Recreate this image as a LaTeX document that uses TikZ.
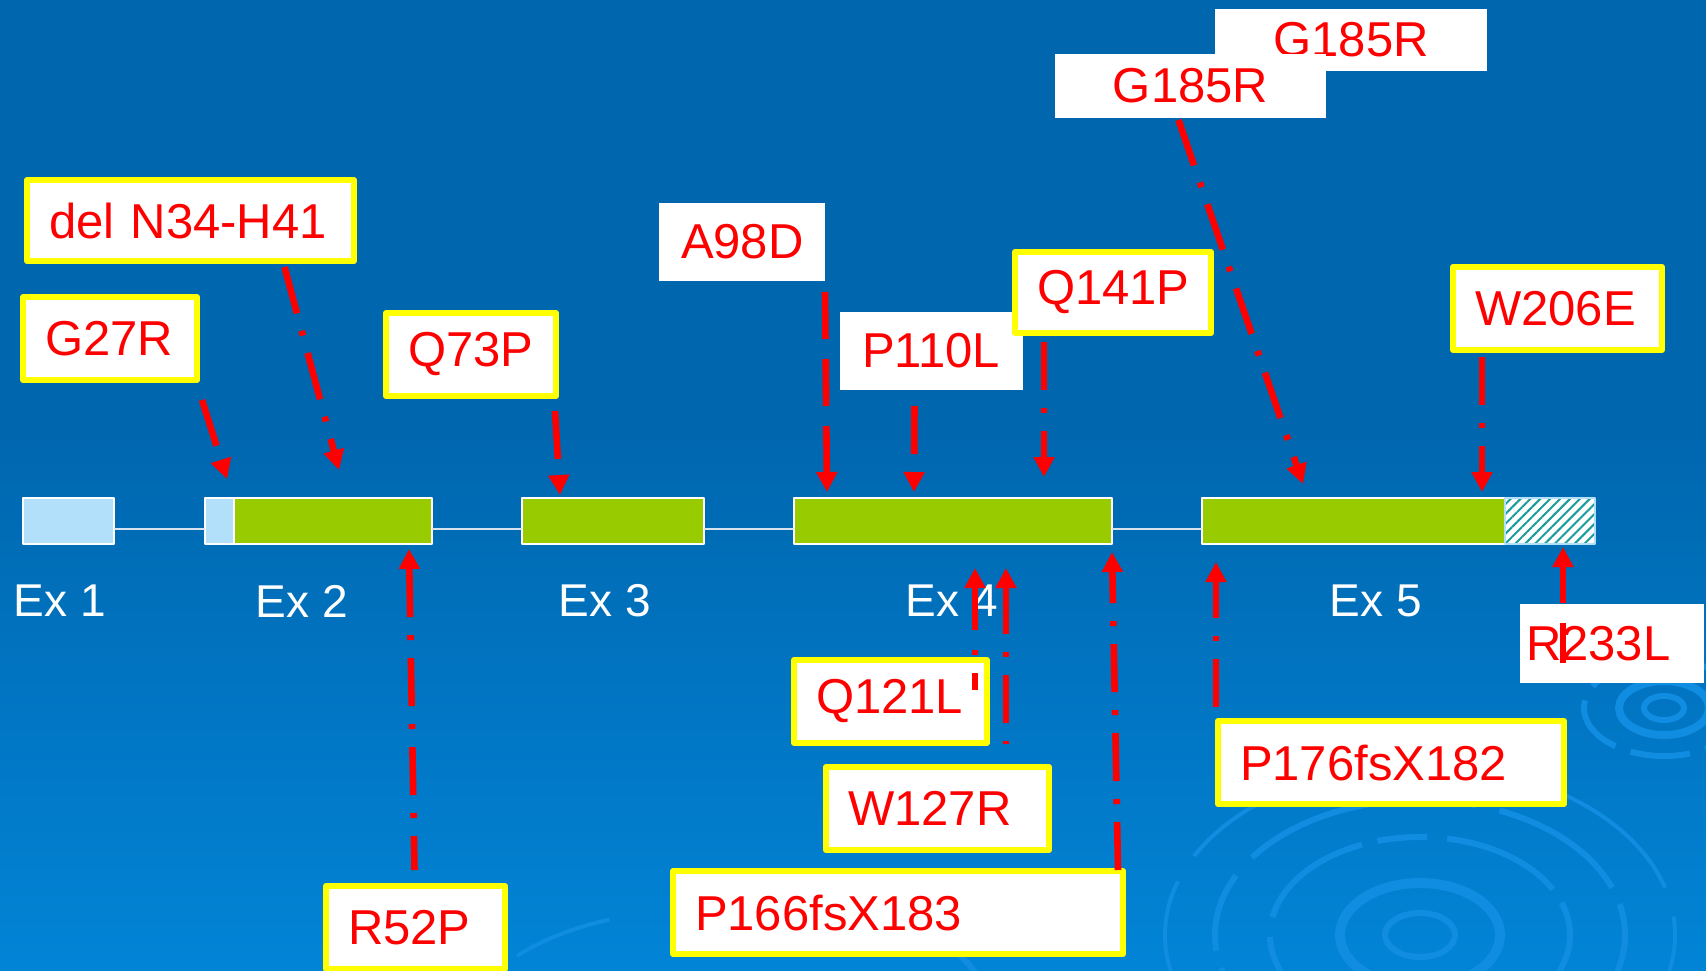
\documentclass[tikz,border=0pt]{standalone}
\usepackage{fontspec}
\setmainfont{Liberation Sans}
\usetikzlibrary{arrows.meta,patterns.meta}

\definecolor{bgtop}{RGB}{0,102,174}
\definecolor{bgbot}{RGB}{2,132,214}
\definecolor{ringblue}{RGB}{16,140,224}
\definecolor{exgreen}{RGB}{153,204,0}
\definecolor{utrblue}{RGB}{178,224,250}
\definecolor{hatchteal}{RGB}{26,156,156}
\definecolor{mutyellow}{RGB}{255,255,0}
\definecolor{mutred}{RGB}{255,0,0}
\definecolor{introngray}{RGB}{215,228,240}

\tikzset{
  exon/.style={draw=white, line width=0.8pt, fill=exgreen, anchor=north west,
    inner sep=0pt, outer sep=0pt, minimum height=23pt},
  utr/.style={exon, fill=utrblue},
  utrhatch/.style={draw=utrblue, line width=0.8pt, anchor=north west,
    inner sep=0pt, outer sep=0pt, minimum height=23pt, preaction={fill=white},
    pattern={Lines[angle=45, distance=3.5pt, line width=1pt]}, pattern color=hatchteal},
  intron/.style={introngray, line width=1pt},
  exlabel/.style={text=white, font=\fontsize{23}{27}\selectfont},
  mutbox/.style={draw=mutyellow, line width=3pt, fill=white, text=mutred,
    font=\fontsize{24.5}{29}\selectfont, anchor=north west, inner xsep=11pt,
    inner ysep=0pt, outer sep=0pt, align=left, minimum height=41.5pt},
  mutplain/.style={mutbox, draw=none},
  mutarrow/.style={->, mutred, line width=3.3pt, line cap=butt,
    dash pattern=on 24pt off 9pt on 2.5pt off 9pt},
  ripple/.style={ringblue, line width=3pt, line cap=butt},
}

\begin{document}
\begin{tikzpicture}[x=0.5pt, y=-0.5pt, >={Triangle[width=10pt, length=10pt]}, line join=round]
  % Background
  \useasboundingbox (0,0) rectangle (1706,970);
  \fill[bgtop] (0,0) rectangle (1706,420);
  \shade[top color=bgtop, bottom color=bgbot] (0,419) rectangle (1706,970);

  % Ripples
  \draw[ripple] (1420,935) ellipse [x radius=35, y radius=22];
  \draw[ripple, line width=5pt] (1420,935) ellipse [x radius=80, y radius=52];
  \draw[ripple, dash pattern=on 60pt off 8pt on 25pt off 10pt] (1420,935) ellipse [x radius=150, y radius=98];
  \draw[ripple, dash pattern=on 40pt off 12pt on 70pt off 9pt] (1420,935) ellipse [x radius=205, y radius=135];
  \draw[ripple, line width=2pt, dash pattern=on 80pt off 15pt] (1420,935) ellipse [x radius=255, y radius=170];
  \draw[ripple] (1664,708) ellipse [x radius=20, y radius=12];
  \draw[ripple, line width=4pt] (1664,708) ellipse [x radius=45, y radius=27];
  \draw[ripple, dash pattern=on 30pt off 8pt] (1664,708) ellipse [x radius=80, y radius=48];
  \draw[ripple, dash pattern=on 35pt off 20pt on 60pt off 200pt] (700,1040) ellipse [x radius=300, y radius=170];
  \draw[ripple, line width=2pt, dash pattern=on 50pt off 300pt] (700,1040) ellipse [x radius=240, y radius=130];

  % Exons
  \node[utr, minimum width=45.5pt] (ex1) at (23,498) {};
  \node[utr, minimum width=14.5pt] (ex2u) at (205,498) {};
  \node[exon, minimum width=99pt] (ex2) at (234,498) {};
  \node[exon, minimum width=91pt] (ex3) at (522,498) {};
  \node[exon, minimum width=159pt] (ex4) at (794,498) {};
  \node[exon, minimum width=151.5pt] (ex5) at (1202,498) {};
  \node[utrhatch, minimum width=45pt] (ex5u) at (1505,498) {};

  % Introns
  \draw[intron] ([yshift=-4pt]ex1.east) -- ([yshift=-4pt]ex2u.west);
  \draw[intron] ([yshift=-4pt]ex2.east) -- ([yshift=-4pt]ex3.west);
  \draw[intron] ([yshift=-4pt]ex3.east) -- ([yshift=-4pt]ex4.west);
  \draw[intron] ([yshift=-4pt]ex4.east) -- ([yshift=-4pt]ex5.west);

  % Exon labels
  \node[exlabel] (lab1) at (60,601) {Ex 1};
  \node[exlabel] (lab2) at (302,601) {Ex 2};
  \node[exlabel] (lab3) at (605,601) {Ex 3};
  \node[exlabel] (lab4) at (952,601) {Ex 4};
  \node[exlabel] (lab5) at (1376,601) {Ex 5};

  % Mutations above the gene
  \node[mutbox, text width=141.5pt, minimum height=40.5pt] (del) at (27,180) {del N34-H41};
  \node[mutbox, text width=65pt] (g27r) at (23,297) {G27R};
  \node[mutbox, text width=63pt] (q73p) at (386,313) {Q73P};
  \node[mutplain, text width=61pt, minimum height=39pt] (a98d) at (659,203) {A98D};
  \node[mutplain, text width=69.5pt, minimum height=39pt] (p110l) at (840,312) {P110L};
  \node[mutbox, text width=76pt, minimum height=40.5pt] (q141p) at (1015,252) {Q141P};
  \node[mutplain, text width=114pt, minimum height=31pt, align=center] (gup) at (1215,9) {G185R};
  \node[mutplain, text width=113.5pt, minimum height=32pt, align=center] (glow) at (1055,54) {G185R};
  \node[mutbox, text width=82.5pt] (w206e) at (1453,267) {W206E};

  % Mutations below the gene
  \node[mutbox, text width=67.5pt] (r52p) at (326,886) {R52P};
  \node[mutbox, text width=74.5pt] (q121l) at (794,660) {Q121L};
  \node[mutbox, text width=89.5pt] (w127r) at (826,767) {W127R};
  \node[mutbox, text width=203pt] (p166) at (673,871) {P166fsX183};
  \node[mutbox, text width=151pt] (p176) at (1218,721) {P176fsX182};
  \node[mutplain, inner xsep=3pt, text width=86pt, minimum height=39.5pt] (r233l) at (1520,604) {R233L};

  % Sites on the exons
  \coordinate (s27) at (227,479);
  \coordinate (s34) at (339,470);
  \coordinate (s73) at (560,495);
  \coordinate (s98) at (827,492);
  \coordinate (s110) at (914,492);
  \coordinate (s141) at (1044,477);
  \coordinate (s185) at (1303,484);
  \coordinate (s206) at (1482,492);
  \coordinate (s52) at (409,549);
  \coordinate (s121) at (975,568);
  \coordinate (s127) at (1006,568);
  \coordinate (s166) at (1112,552);
  \coordinate (s176) at (1216,562);
  \coordinate (s233) at (1563,547);

  % Arrows
  \draw[mutarrow] ([shift={(5,20)}]g27r.south east) -- (s27);
  \draw[mutarrow] ([shift={(94,6)}]del.south) -- (s34);
  \draw[mutarrow] ([shift={(-1,15)}]q73p.south east) -- (s73);
  \draw[mutarrow, dash pattern=on 23.5pt off 10pt] ([shift={(0,11)}]a98d.south east) -- (s98);
  \draw[mutarrow] ([shift={(-17,16)}]p110l.south) -- (s110);
  \draw[mutarrow] ([shift={(29,9)}]q141p.south west) -- (s141);
  \draw[mutarrow] ([shift={(-12,2)}]glow.south) -- (s185);
  \draw[mutarrow] ([shift={(29,7)}]w206e.south west) -- (s206);
  \draw[mutarrow, dash phase=7pt] ([shift={(-1,-16)}]r52p.north) -- (s52);
  \draw[mutarrow, dash pattern=on 8.5pt off 9pt on 2.5pt off 10pt on 200pt off 1pt] ([shift={(-12,30)}]q121l.north east) -- (s121);
  \draw[mutarrow, dash phase=34pt] ([shift={(-43,-23)}]w127r.north east) -- (s127);
  \draw[mutarrow] ([shift={(-5,-1)}]p166.north east) -- (s166);
  \draw[mutarrow] ([shift={(-2,-14)}]p176.north west) -- (s176);
  \draw[mutarrow, dash pattern=on 20pt off 10pt on 200pt off 1pt] ([shift={(43,59)}]r233l.north west) -- (s233);
\end{tikzpicture}
\end{document}
